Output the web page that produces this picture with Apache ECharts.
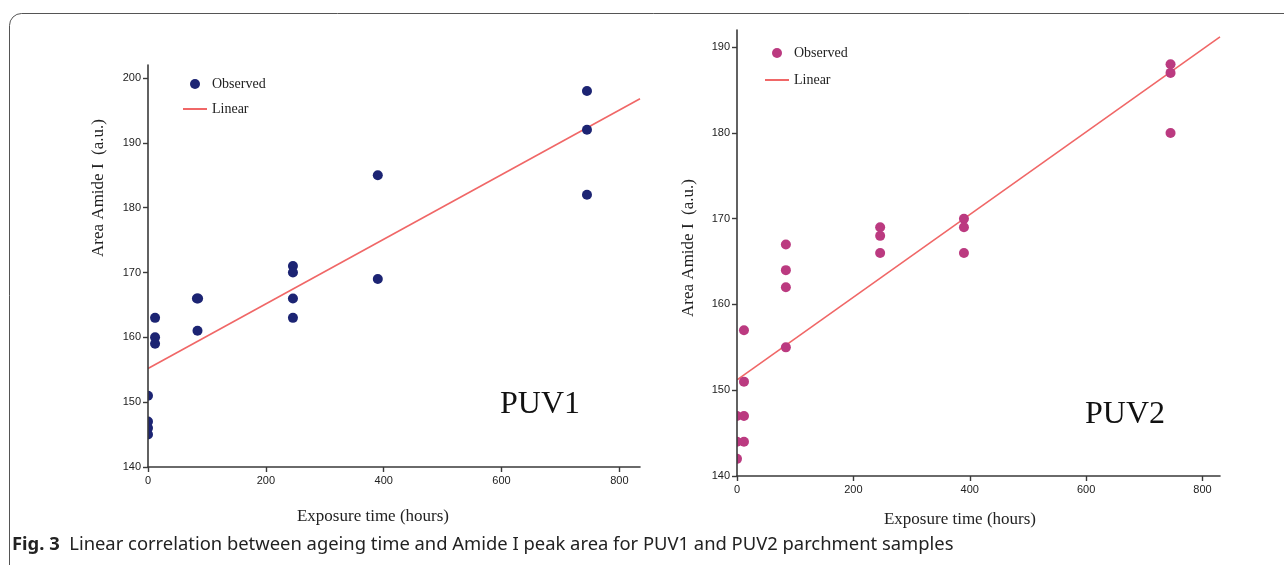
<!DOCTYPE html>
<html>
<head>
<meta charset="utf-8">
<script src="https://cdn.jsdelivr.net/npm/echarts@6/dist/echarts.min.js"></script>
<style>
  html, body { margin: 0; padding: 0; background: #fff; }
  #chart { width: 1284px; height: 565px; }
</style>
</head>
<body>
<div id="chart"></div>
<script>
// values
let yTicksPuv1 = [140, 150, 160, 170, 180, 190, 200];
let yTicksPuv2 = [140, 150, 160, 170, 180, 190];
let xTicks = [0, 200, 400, 600, 800];

// PUV1 observed points [hours, area]
let puv1Observed = [
    [0, 151], [0, 147], [0, 146], [0, 145],
    [12, 163], [12, 160], [12, 159],
    [83, 166], [85, 166], [84, 161],
    [246, 171], [246, 170], [246, 166], [246, 163],
    [390, 185], [390, 169],
    [745, 198], [745, 192], [745, 182]
];
// PUV2 observed points
let puv2Observed = [
    [0, 147], [0, 144], [0, 142],
    [12, 157], [12, 151], [12, 147], [12, 144],
    [84, 167], [84, 164], [84, 162], [84, 155],
    [246, 169], [246, 168], [246, 166],
    [390, 170], [390, 169], [390, 166],
    [745, 188], [745, 187], [745, 180]
];
// fitted lines, end points as drawn
let puv1Linear = [[0, 155.2], [835, 196.8]];
let puv2Linear = [[0, 151.2], [830, 191.2]];

let navy = '#1c2473';
let magenta = '#bb3a80';
let red = '#f06767';
let axisColor = '#3a3a3a';

function xAxisOf(gridIndex, max, gap, pad) {
    return {
        type: 'value', gridIndex: gridIndex, min: 0, max: max, z: 4,
        name: 'Exposure time (hours)', nameLocation: 'middle', nameGap: gap,
        nameTextStyle: { fontFamily: 'Liberation Serif', fontSize: 17, color: '#222', padding: [0, pad, 0, 0] },
        axisLine: { lineStyle: { color: axisColor, width: 1.6 } },
        axisTick: { inside: false, length: 5, lineStyle: { color: axisColor, width: 1.4 }, customValues: xTicks },
        axisLabel: { fontFamily: 'Liberation Sans', fontSize: 11, color: '#222', margin: 8, customValues: xTicks },
        splitLine: { show: false }
    };
}

function yAxisOf(gridIndex, max, ticks, gap, pad) {
    return {
        type: 'value', gridIndex: gridIndex, min: 140, max: max, z: 4,
        name: 'Area Amide I  (a.u.)', nameLocation: 'middle', nameGap: gap,
        nameTextStyle: { fontFamily: 'Liberation Serif', fontSize: 17, color: '#222', padding: [0, 0, 0, pad] },
        axisLine: { show: true, lineStyle: { color: axisColor, width: 1.6 } },
        axisTick: { show: true, inside: false, length: 5, lineStyle: { color: axisColor, width: 1.4 }, customValues: ticks },
        axisLabel: { fontFamily: 'Liberation Sans', fontSize: 11, color: '#222', margin: 7, customValues: ticks },
        splitLine: { show: false }
    };
}

function legendOf(left, top, gap, names) {
    return {
        orient: 'vertical', left: left, top: top, itemWidth: 24, itemHeight: 10, itemGap: gap,
        textStyle: { fontFamily: 'Liberation Serif', fontSize: 14, color: '#222', lineHeight: 14 },
        formatter: function (name) { return name.split(' ')[1]; },
        selectedMode: false,
        data: [
            { name: names[0], icon: 'circle' },
            { name: names[1], icon: 'path://M0,0H24V2H0Z' }
        ]
    };
}

// white strip left of each y axis, so dots at 0 h look cut by the frame like in the figure
function maskOf(left, top, height) {
    return {
        type: 'rect', left: left, top: top, silent: true, z: 3,
        shape: { width: 8, height: height },
        style: { fill: '#fff' }
    };
}

let option = {
    animation: false,
    backgroundColor: '#fff',
    grid: [
        { left: 148, top: 65, width: 492, height: 402 },
        { left: 737, top: 30, width: 483, height: 446 }
    ],
    xAxis: [xAxisOf(0, 835, 41, 42), xAxisOf(1, 830, 35, 37)],
    yAxis: [yAxisOf(0, 202, yTicksPuv1, 41, 156), yAxisOf(1, 192, yTicksPuv2, 40, 10)],
    legend: [
        legendOf(178, 72, 11, ['PUV1 Observed', 'PUV1 Linear']),
        legendOf(760, 41, 13, ['PUV2 Observed', 'PUV2 Linear'])
    ],
    series: [
        {
            name: 'PUV1 Observed', type: 'scatter', xAxisIndex: 0, yAxisIndex: 0,
            symbolSize: 10, itemStyle: { color: navy, opacity: 1 }, data: puv1Observed, z: 2
        },
        {
            name: 'PUV1 Linear', type: 'line', xAxisIndex: 0, yAxisIndex: 0, symbol: 'none',
            color: red, lineStyle: { color: red, width: 1.6 }, data: puv1Linear, z: 2
        },
        {
            name: 'PUV2 Observed', type: 'scatter', xAxisIndex: 1, yAxisIndex: 1,
            symbolSize: 10, itemStyle: { color: magenta, opacity: 1 }, data: puv2Observed, z: 2
        },
        {
            name: 'PUV2 Linear', type: 'line', xAxisIndex: 1, yAxisIndex: 1, symbol: 'none',
            color: red, lineStyle: { color: red, width: 1.6 }, data: puv2Linear, z: 2
        }
    ],
    graphic: [
        {
            type: 'rect', left: 7, top: 11, silent: true, z: -1,
            shape: { width: 1320, height: 600, r: 12 },
            style: { fill: 'none', stroke: '#555', lineWidth: 1 }
        },
        maskOf(140, 60, 410),
        maskOf(729, 25, 455),
        {
            type: 'text', left: 500, top: 389, silent: true,
            style: { text: 'PUV1', fontFamily: 'Liberation Serif', fontSize: 32, fill: '#111' }
        },
        {
            type: 'text', left: 1085, top: 399, silent: true,
            style: { text: 'PUV2', fontFamily: 'Liberation Serif', fontSize: 32, fill: '#111' }
        },
        {
            type: 'text', left: 12, top: 536, silent: true,
            style: {
                text: '{b|Fig. 3}  Linear correlation between ageing time and Amide I peak area for PUV1 and PUV2 parchment samples',
                fontFamily: 'Noto Sans', fontSize: 18.4, fill: '#222',
                rich: { b: { fontFamily: 'Noto Sans', fontSize: 18.4, fontWeight: 'bold', fill: '#222' } }
            }
        }
    ]
};

let myChart = echarts.init(document.querySelector('#chart'));
myChart.setOption(option);
</script>
</body>
</html>
